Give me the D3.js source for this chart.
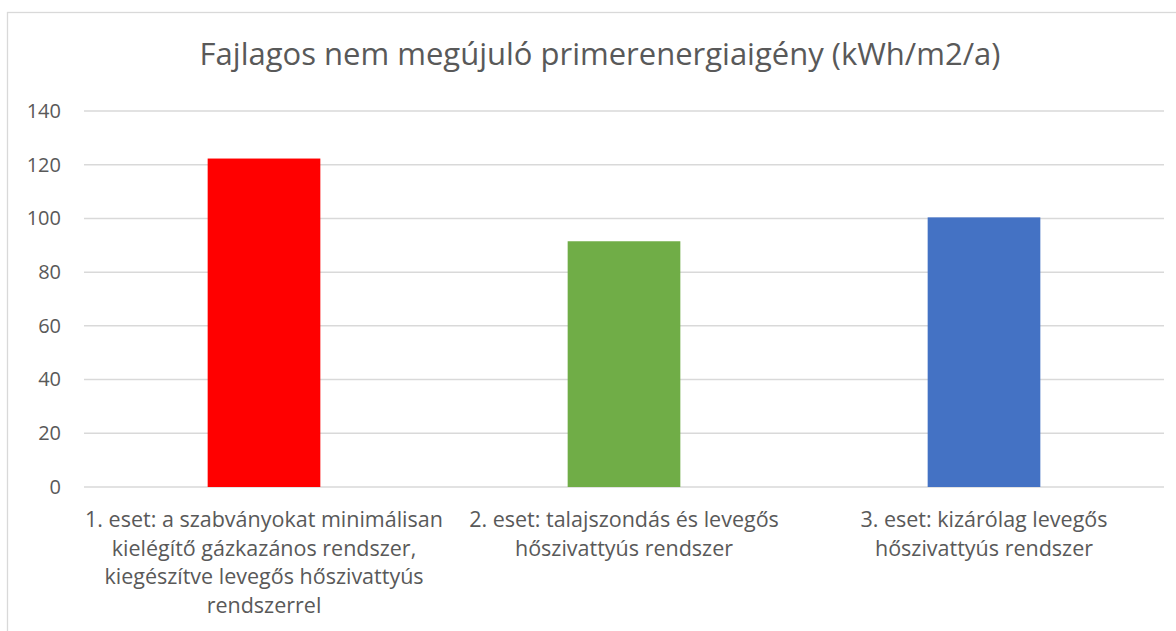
<!DOCTYPE html>
<html>
<head>
<meta charset="utf-8">
<script src="https://cdn.jsdelivr.net/npm/d3@7"></script>
<style>
  body { margin: 0; background: #fff; }
  text { font-family: "Open Sans", Lato, sans-serif; fill: #595959; }
</style>
</head>
<body>
<div id="chart"></div>
<script>
const title = "Fajlagos nem megújuló primerenergiaigény (kWh/m2/a)";
const categories = [
  "1. eset: a szabványokat minimálisan kielégítő gázkazános rendszer, kiegészítve levegős hőszivattyús rendszerrel",
  "2. eset: talajszondás és levegős hőszivattyús rendszer",
  "3. eset: kizárólag levegős hőszivattyús rendszer"
];
// wrapped lines as they appear under the axis
const categoryLines = [
  ["1. eset: a szabványokat minimálisan", "kielégítő gázkazános rendszer,", "kiegészítve levegős hőszivattyús", "rendszerrel"],
  ["2. eset: talajszondás és levegős", "hőszivattyús rendszer"],
  ["3. eset: kizárólag levegős", "hőszivattyús rendszer"]
];
const values = [122.3, 91.5, 100.4];
const colors = ["#FF0000", "#70AD47", "#4472C4"];
const yTicks = [0, 20, 40, 60, 80, 100, 120, 140];

const width = 1176;
const height = 631;
const margin = { top: 111, right: 12, bottom: 144, left: 84 };

const svg = d3.select("#chart")
              .append("svg")
              .attr("width", width)
              .attr("height", height);

// chart area border (only top and left visible in the picture)
svg.append("rect")
   .attr("x", 7.5)
   .attr("y", 12.5)
   .attr("width", width + 20)
   .attr("height", height + 20)
   .attr("fill", "none")
   .attr("stroke", "#d9d9d9")
   .attr("stroke-width", 1.3);

const x = d3.scaleBand()
            .domain(categories)
            .range([margin.left, width - margin.right])
            .paddingInner(0.687)
            .paddingOuter(0.3435);

const y = d3.scaleLinear()
            .domain([0, 140])
            .range([height - margin.bottom, margin.top]);

// gridlines
svg.append("g")
   .selectAll("line")
   .data(yTicks)
   .join("line")
   .attr("x1", margin.left)
   .attr("x2", width - margin.right)
   .attr("y1", d => y(d))
   .attr("y2", d => y(d))
   .attr("stroke", "#d9d9d9")
   .attr("stroke-width", 1.5);

// y axis labels
const yAxis = svg.append("g")
   .attr("transform", `translate(${margin.left}, 0)`)
   .call(d3.axisLeft(y).tickValues(yTicks).tickSize(0).tickPadding(23));
yAxis.select(".domain").remove();
yAxis.selectAll("text")
     .style("font-size", "20px")
     .style("font-family", "'Open Sans', sans-serif")
     .attr("fill", "#595959");

// bars
svg.append("g")
   .selectAll("rect")
   .data(values)
   .join("rect")
   .attr("x", (d, i) => x(categories[i]))
   .attr("y", d => y(d))
   .attr("width", x.bandwidth())
   .attr("height", d => y(0) - y(d))
   .attr("fill", (d, i) => colors[i]);

// category labels
const xAxis = svg.append("g")
   .attr("transform", `translate(0, ${y(0)})`)
   .call(d3.axisBottom(x).tickSize(0).tickFormat(""));
xAxis.select(".domain").remove();
xAxis.selectAll(".tick text").remove();
xAxis.selectAll(".tick")
     .append("text")
     .attr("text-anchor", "middle")
     .style("font-size", "21.5px")
     .selectAll("tspan")
     .data((d, i) => categoryLines[i])
     .join("tspan")
     .attr("x", 0)
     .attr("y", (d, i) => 40 + i * 28.5)
     .text(d => d);

// title
svg.append("text")
   .attr("x", 600)
   .attr("y", 65)
   .attr("text-anchor", "middle")
   .style("font-size", "31px")
   .text(title);
</script>
</body>
</html>
